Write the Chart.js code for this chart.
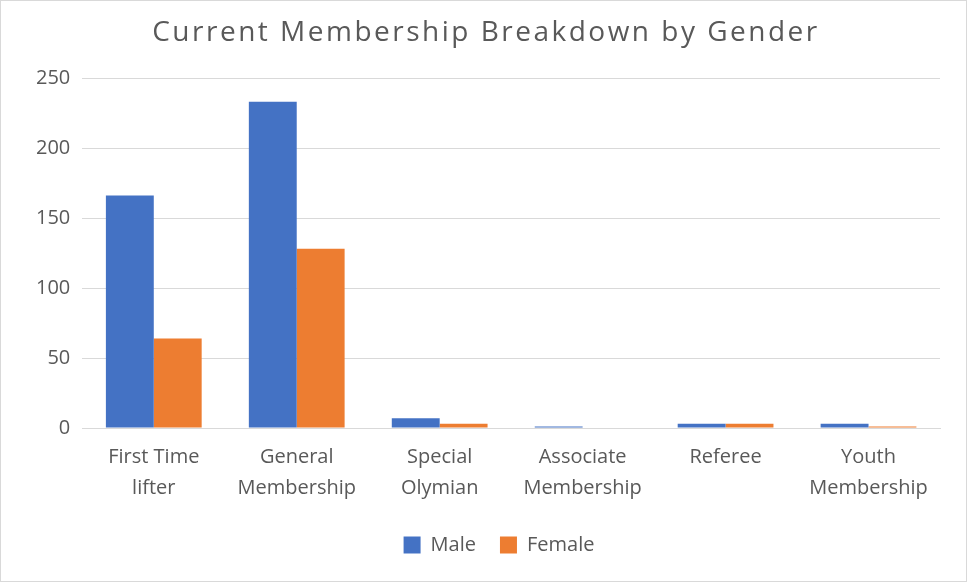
<!DOCTYPE html>
<html>
<head>
<meta charset="utf-8">
<script src="https://cdn.jsdelivr.net/npm/chart.js@4.4.0/dist/chart.umd.min.js"></script>
<style>
  html, body { margin: 0; padding: 0; background: #fff; }
  #wrap { width: 967px; height: 582px; box-sizing: border-box; border: 1px solid #d9d9d9; }
</style>
</head>
<body>
<div id="wrap"><canvas id="chart" width="965" height="580"></canvas></div>
<script>
// categories and series
const categories = [
    ['First Time', 'lifter'],
    ['General', 'Membership'],
    ['Special', 'Olymian'],
    ['Associate', 'Membership'],
    ['Referee'],
    ['Youth', 'Membership']
];
const maleValues = [166, 233, 7, 1, 3, 3];
const femaleValues = [64, 128, 3, 0, 3, 1];
const yTicks = [0, 50, 100, 150, 200, 250];

const textColor = '#595959';
const fontFamily = '"Open Sans", "Noto Sans", sans-serif';

// nudge title (wider letter spacing) and legend to where they sit in the picture
function wrapDraw(chart, box, dx, spacing) {
    if (!box) return;
    const draw = box.draw.bind(box);
    box.draw = function () {
        const ctx = chart.ctx;
        ctx.save();
        ctx.translate(dx, 0);
        if (spacing) ctx.letterSpacing = spacing;
        draw();
        ctx.restore();
    };
}

const nudges = {
    id: 'nudges',
    afterInit(chart) {
        wrapDraw(chart, chart.titleBlock, 4, '2.5px');
        wrapDraw(chart, chart.legend, 17, null);
    }
};

new Chart(document.getElementById('chart').getContext('2d'), {
    type: 'bar',
    data: {
        labels: categories,
        datasets: [
            { label: 'Male', data: maleValues, backgroundColor: '#4472c4', categoryPercentage: 0.67, barPercentage: 1.0 },
            { label: 'Female', data: femaleValues, backgroundColor: '#ed7d31', categoryPercentage: 0.67, barPercentage: 1.0 }
        ]
    },
    options: {
        responsive: false,
        animation: false,
        layout: { padding: { left: 23, right: 26, top: 7, bottom: 16 } },
        plugins: {
            title: {
                display: true,
                text: 'Current Membership Breakdown by Gender',
                color: textColor,
                font: { family: fontFamily, size: 28, weight: 'normal' },
                padding: { top: 8, bottom: 28.4 }
            },
            legend: {
                position: 'bottom',
                labels: {
                    color: textColor,
                    font: { family: fontFamily, size: 20 },
                    boxWidth: 17,
                    boxHeight: 17,
                    padding: 24
                }
            },
            tooltip: { enabled: false }
        },
        scales: {
            x: {
                grid: { display: false, drawTicks: false },
                border: { color: '#d9d9d9' },
                ticks: { color: textColor, font: { family: fontFamily, size: 20, lineHeight: 1.55 }, maxRotation: 0, padding: 13.5 },
                afterFit: axis => { axis.height -= 6; }
            },
            y: {
                min: 0,
                max: 250,
                afterBuildTicks: axis => { axis.ticks = yTicks.map(v => ({ value: v })); },
                grid: { color: '#d9d9d9', drawTicks: false },
                border: { display: false },
                ticks: { color: textColor, font: { family: fontFamily, size: 20 }, padding: 12 }
            }
        }
    },
    plugins: [nudges]
});
</script>
</body>
</html>
